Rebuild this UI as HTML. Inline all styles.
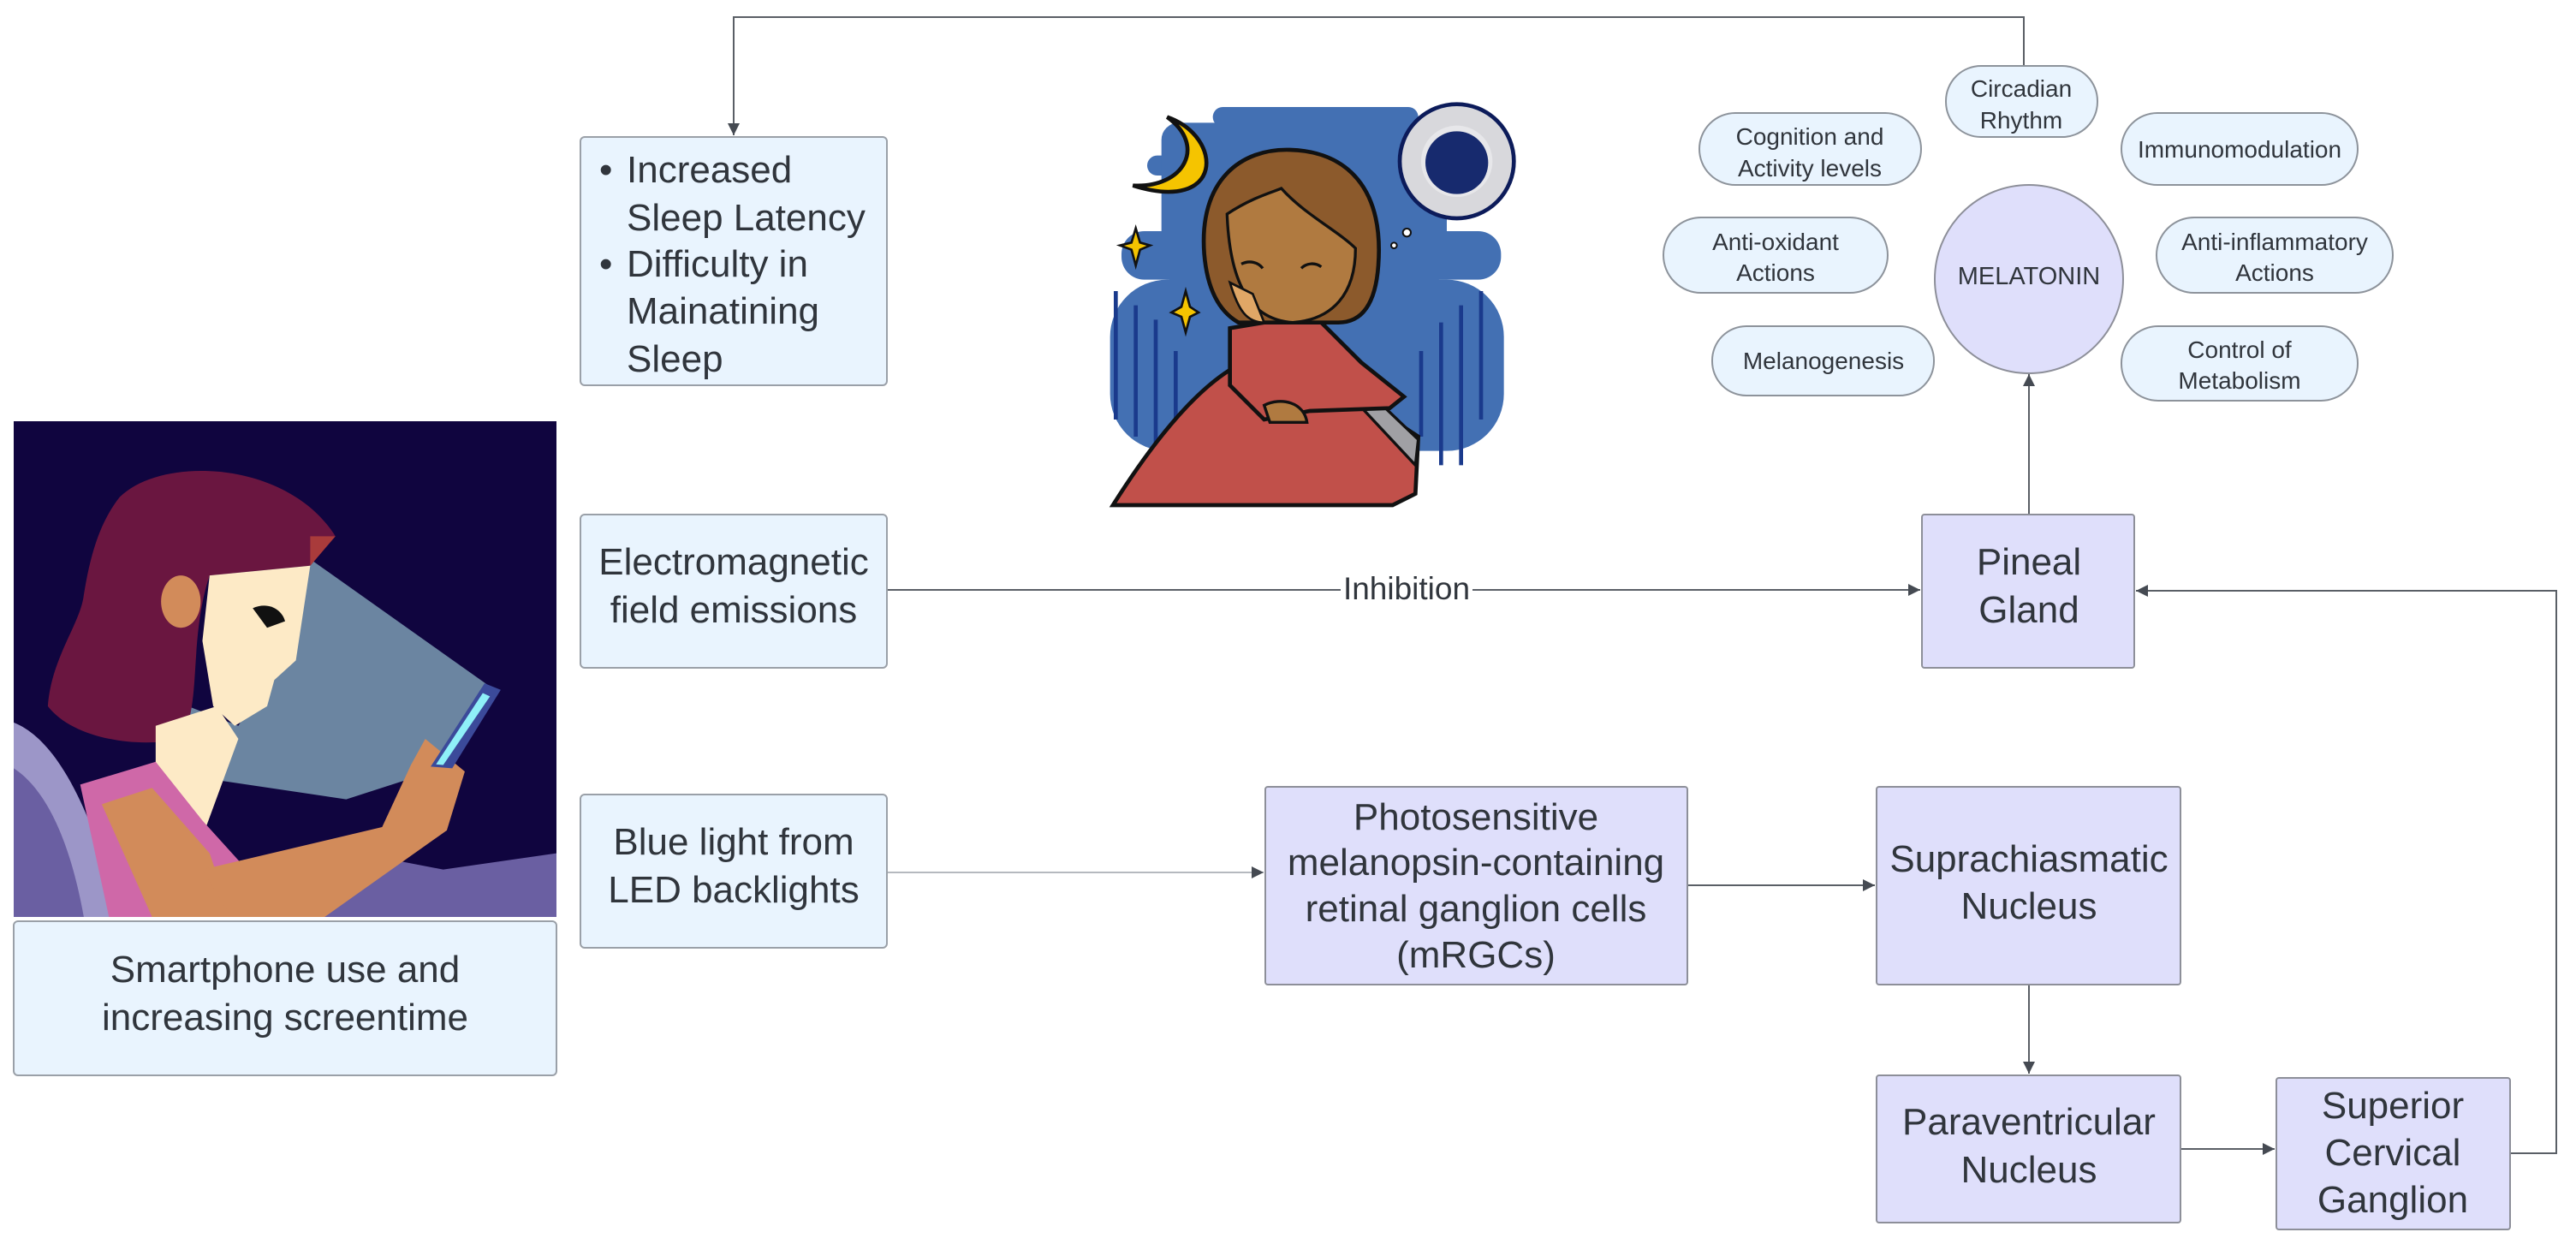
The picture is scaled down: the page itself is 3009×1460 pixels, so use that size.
<!DOCTYPE html>
<html><head><meta charset="utf-8"><style>
html,body{margin:0;padding:0;background:#fff;}
svg{display:block;}
text{font-family:"Liberation Sans",sans-serif;fill:#30353c;}
</style></head><body>
<svg width="3009" height="1460" viewBox="0 0 3009 1460" xmlns="http://www.w3.org/2000/svg">
<defs>
<marker id="ah" viewBox="0 0 10 10" refX="10" refY="5" markerWidth="9" markerHeight="9" orient="auto" markerUnits="userSpaceOnUse">
<path d="M0,0 L10,5 L0,10 z" fill="#454a52"/></marker>
<marker id="a2" viewBox="0 0 10 10" refX="10" refY="5" markerWidth="20" markerHeight="14" orient="auto" markerUnits="userSpaceOnUse">
<path d="M0,0 L10,5 L0,10 z" fill="#454a52"/></marker>
</defs>

<!-- connectors -->
<g fill="none" stroke="#5a5f66" stroke-width="2">
<polyline points="2364,77 2364,20 857,20 857,158" marker-end="url(#a2)"/>
<line x1="1036" y1="689" x2="2243" y2="689" marker-end="url(#a2)"/>
<line x1="1036" y1="1019" x2="1476" y2="1019" stroke="#b5b9bf" marker-end="url(#a2)"/>
<line x1="1971" y1="1034" x2="2190" y2="1034" marker-end="url(#a2)"/>
<line x1="2370" y1="1150" x2="2370" y2="1254" marker-end="url(#a2)"/>
<line x1="2547" y1="1342" x2="2657" y2="1342" marker-end="url(#a2)"/>
<polyline points="2932,1347 2986,1347 2986,690 2495,690" marker-end="url(#a2)"/>
<line x1="2370" y1="601" x2="2370" y2="437" marker-end="url(#a2)"/>
</g>
<rect x="1566" y="668" width="154" height="40" fill="#fff"/>
<text x="1643" y="700" font-size="37" text-anchor="middle">Inhibition</text>

<!-- left light boxes -->
<g fill="#e9f4fe" stroke="#9aa0a8" stroke-width="2">
<rect x="678" y="160" width="358" height="290" rx="5"/>
<rect x="678" y="601" width="358" height="179" rx="5"/>
<rect x="678" y="928" width="358" height="179" rx="5"/>
<rect x="16" y="1076" width="634" height="180" rx="5"/>
</g>
<g font-size="44">
<text x="700" y="213">•</text><text x="732" y="213">Increased</text>
<text x="732" y="269">Sleep Latency</text>
<text x="700" y="323">•</text><text x="732" y="323">Difficulty in</text>
<text x="732" y="378">Mainatining</text>
<text x="732" y="434">Sleep</text>
</g>
<g font-size="44" text-anchor="middle">
<text x="857" y="671">Electromagnetic</text>
<text x="857" y="727">field emissions</text>
<text x="857" y="998">Blue light from</text>
<text x="857" y="1054">LED backlights</text>
<text x="333" y="1147">Smartphone use and</text>
<text x="333" y="1203">increasing screentime</text>
</g>

<!-- purple boxes -->
<g fill="#dfdffb" stroke="#8d8f99" stroke-width="2">
<rect x="2245" y="601" width="248" height="179" rx="3"/>
<rect x="1478" y="919" width="493" height="231" rx="3"/>
<rect x="2192" y="919" width="355" height="231" rx="3"/>
<rect x="2192" y="1256" width="355" height="172" rx="3"/>
<rect x="2659" y="1259" width="273" height="177" rx="3"/>
<circle cx="2370" cy="326" r="110"/>
</g>
<g font-size="44" text-anchor="middle">
<text x="2370" y="671">Pineal</text><text x="2370" y="727">Gland</text>
<text x="1724" y="969">Photosensitive</text>
<text x="1724" y="1022">melanopsin-containing</text>
<text x="1724" y="1076">retinal ganglion cells</text>
<text x="1724" y="1130">(mRGCs)</text>
<text x="2370" y="1018">Suprachiasmatic</text><text x="2370" y="1073">Nucleus</text>
<text x="2370" y="1325">Paraventricular</text><text x="2370" y="1381">Nucleus</text>
<text x="2795" y="1306">Superior</text><text x="2795" y="1361">Cervical</text><text x="2795" y="1416">Ganglion</text>
</g>
<text x="2370" y="332" font-size="29" text-anchor="middle">MELATONIN</text>

<!-- ellipses -->
<g fill="#e9f4fe" stroke="#8d939b" stroke-width="2">
<rect x="2273" y="77" width="177" height="83" rx="41"/>
<rect x="1985" y="132" width="259" height="84" rx="42"/>
<rect x="2478" y="132" width="276" height="84" rx="42"/>
<rect x="1943" y="254" width="262" height="88" rx="44"/>
<rect x="2519" y="254" width="276" height="88" rx="44"/>
<rect x="2000" y="381" width="259" height="81" rx="40"/>
<rect x="2478" y="381" width="276" height="87" rx="43"/>
</g>
<g font-size="28" text-anchor="middle">
<text x="2361" y="113">Circadian</text><text x="2361" y="150">Rhythm</text>
<text x="2114" y="169">Cognition and</text><text x="2114" y="206">Activity levels</text>
<text x="2616" y="184">Immunomodulation</text>
<text x="2074" y="292">Anti-oxidant</text><text x="2074" y="328">Actions</text>
<text x="2657" y="292">Anti-inflammatory</text><text x="2657" y="328">Actions</text>
<text x="2130" y="431">Melanogenesis</text>
<text x="2616" y="418">Control of</text><text x="2616" y="454">Metabolism</text>
</g>

<!-- smartphone illustration -->
<svg x="16" y="492" width="634" height="579" viewBox="35 28 1510 1517" preserveAspectRatio="none">
<rect x="35" y="28" width="1510" height="1517" fill="#10053f"/>
<polygon points="860,450 1360,840 1200,1100 960,1185 500,1110 520,900 660,960 800,700" fill="#6b85a1"/>
<path d="M35,950 C150,1000 250,1200 330,1545 L35,1545 Z" fill="#9c96c8"/>
<path d="M35,1090 C120,1150 190,1300 230,1545 L35,1545 Z" fill="#6a5fa2"/>
<polygon points="600,1400 900,1330 1230,1400 1545,1350 1545,1545 600,1545" fill="#6a5fa2"/>
<path d="M330,260 C450,130 800,150 930,380 L860,470 L580,500 C520,700 560,900 500,1000 C380,1030 200,1000 130,900 C140,750 220,650 230,560 C250,420 280,330 330,260 Z" fill="#6a1640"/>
<path d="M860,380 L930,380 L860,470 Z" fill="#a93b3b"/>
<polygon points="580,500 860,470 820,760 760,820 740,900 650,960 590,900 560,700" fill="#fdeac6"/>
<ellipse cx="500" cy="580" rx="55" ry="80" fill="#d28b5a"/>
<polygon points="430,960 600,900 660,1000 560,1300 430,1100" fill="#fdeac6"/>
<polygon points="220,1140 430,1070 560,1250 700,1420 720,1545 300,1545" fill="#cf68a8"/>
<polygon points="280,1200 420,1150 580,1350 640,1545 420,1545" fill="#d28b5a"/>
<polygon points="560,1400 1060,1270 1140,1080 1180,1000 1290,1100 1240,1280 900,1545 640,1545" fill="#d28b5a"/>
<polygon points="1345,830 1390,850 1255,1090 1195,1085" fill="#3b4a9a"/>
<polygon points="1340,860 1360,870 1230,1080 1210,1078" fill="#8ff0f8"/>
<path d="M700,600 C740,580 780,600 790,640 L740,660 Z" fill="#111"/>
</svg>

<!-- sleepy girl illustration -->
<svg x="1290" y="110" width="500" height="500" viewBox="0 0 1500 1500">
<g fill="#4370b3">
<rect x="380" y="45" width="720" height="70" rx="35"/>
<rect x="150" y="215" width="960" height="70" rx="35"/>
<rect x="200" y="100" width="1000" height="560" rx="60"/>
<rect x="60" y="480" width="1330" height="170" rx="80"/>
<rect x="20" y="650" width="1380" height="600" rx="200"/>
</g>
<g stroke="#1a3a8c" stroke-width="14">
<line x1="40" y1="690" x2="40" y2="1140"/><line x1="110" y1="740" x2="110" y2="1200"/><line x1="180" y1="790" x2="180" y2="1280"/><line x1="250" y1="900" x2="250" y2="1300"/>
<line x1="1180" y1="800" x2="1180" y2="1300"/><line x1="1250" y1="740" x2="1250" y2="1300"/><line x1="1320" y1="690" x2="1320" y2="1140"/><line x1="1110" y1="900" x2="1110" y2="1200"/>
</g>
<path d="M220,80 C420,150 420,420 100,320 C280,330 360,180 220,80 Z" fill="#f5c400" stroke="#111" stroke-width="14"/>
<path d="M110,470 L125,520 L160,530 L125,545 L110,600 L95,545 L55,530 L95,520 Z" fill="#f5c400" stroke="#111" stroke-width="8"/>
<path d="M285,690 L300,745 L330,765 L300,780 L285,835 L270,780 L235,765 L270,745 Z" fill="#f5c400" stroke="#111" stroke-width="8"/>
<circle cx="1235" cy="235" r="200" fill="#d8d8dc" stroke="#0c1b5a" stroke-width="14"/>
<circle cx="1235" cy="235" r="125" fill="#fff" opacity=".4"/>
<circle cx="1235" cy="240" r="110" fill="#172a6e"/>
<circle cx="1060" cy="485" r="14" fill="#fff" stroke="#111" stroke-width="6"/>
<circle cx="1015" cy="530" r="10" fill="#fff" stroke="#111" stroke-width="6"/>
<path d="M30,1440 C150,1250 300,1050 450,960 L800,1000 L1100,1200 L1090,1400 L1010,1440 Z" fill="#c1504a" stroke="#111" stroke-width="14"/>
<path d="M800,990 L880,1000 L1100,1210 L1090,1300 Z" fill="#a0a0a4" stroke="#111" stroke-width="10"/>
<path d="M440,820 L560,800 L760,800 L900,940 L1050,1060 L1000,1100 L720,1110 L560,1140 L440,1020 Z" fill="#c1504a" stroke="#111" stroke-width="14"/>
<path d="M560,1090 C620,1060 700,1080 710,1150 L580,1150 Z" fill="#b07a40" stroke="#111" stroke-width="10"/>
<path d="M350,560 C330,300 480,190 650,195 C850,200 980,330 960,600 C950,740 900,800 820,800 L470,800 C400,760 360,680 350,560 Z" fill="#8c5a2c" stroke="#111" stroke-width="14"/>
<path d="M430,420 C520,360 600,340 620,330 C700,420 820,480 880,540 C880,700 800,790 660,800 C520,790 440,680 430,420 Z" fill="#b07a40" stroke="#111" stroke-width="10"/>
<path d="M480,595 C510,580 540,590 555,610" fill="none" stroke="#111" stroke-width="10"/>
<path d="M690,610 C710,590 740,590 760,605" fill="none" stroke="#111" stroke-width="10"/>
<path d="M440,660 C470,760 500,800 560,800 L520,700 Z" fill="#e0a766" stroke="#111" stroke-width="8"/>
</svg>
</svg>
</body></html>
